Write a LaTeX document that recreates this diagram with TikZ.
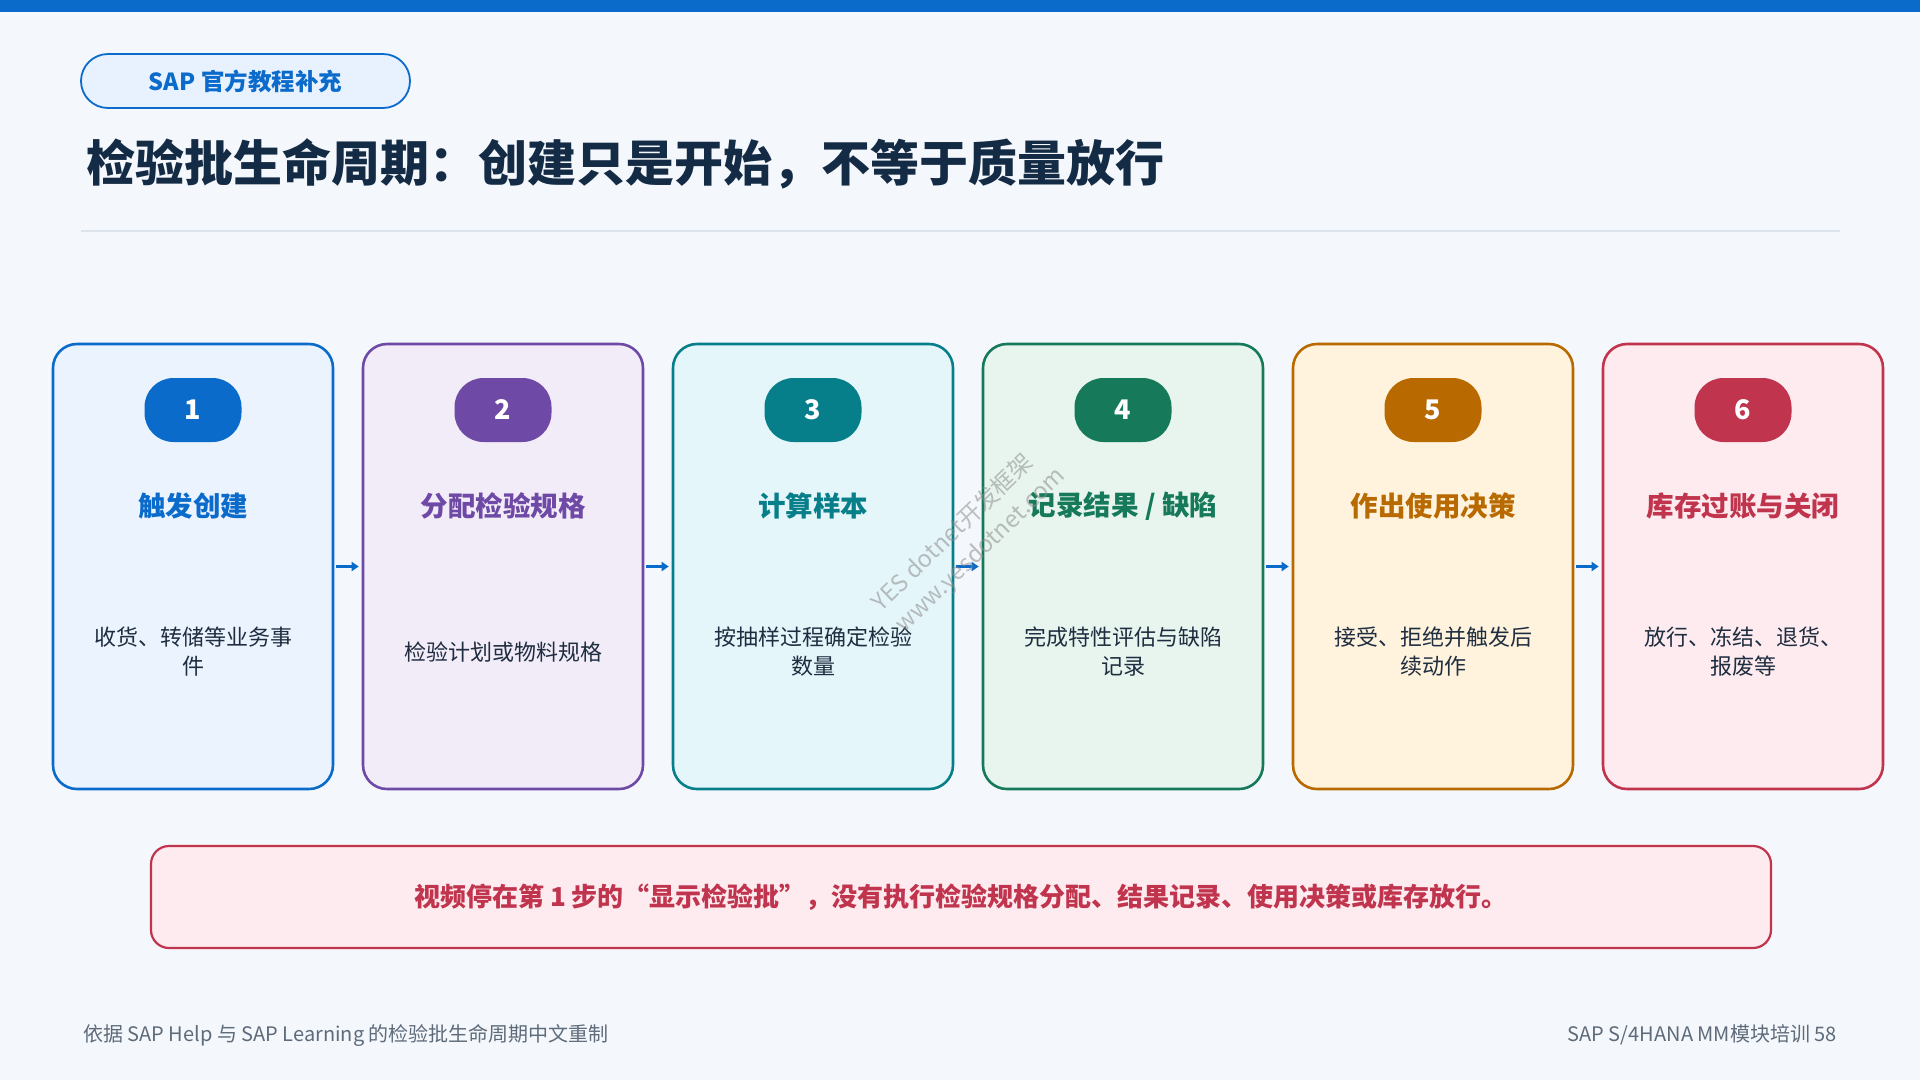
\documentclass[tikz,border=0pt]{standalone}
\usepackage{fontspec}
\setmainfont{Noto Sans CJK SC}
\usepackage{tikz}
\usetikzlibrary{positioning,arrows.meta}

\definecolor{pagebg}{HTML}{F4F7FB}
\definecolor{sapblue}{HTML}{0B6BCB}
\definecolor{tagfill}{HTML}{E8F2FE}
\definecolor{titleink}{HTML}{142B45}
\definecolor{bodyink}{HTML}{1F2D40}
\definecolor{footink}{HTML}{5E6B7A}
\definecolor{rulegray}{HTML}{DDE3EB}
\definecolor{cblue}{HTML}{0B6BCB}
\definecolor{cbluef}{HTML}{EAF3FE}
\definecolor{cpurple}{HTML}{6E4AA6}
\definecolor{cpurplef}{HTML}{F2EBF8}
\definecolor{cteal}{HTML}{077F8A}
\definecolor{ctealf}{HTML}{E5F6FA}
\definecolor{cgreen}{HTML}{15795A}
\definecolor{cgreenf}{HTML}{E7F5EE}
\definecolor{corange}{HTML}{B86A00}
\definecolor{corangef}{HTML}{FFF3DD}
\definecolor{cred}{HTML}{C0344D}
\definecolor{credf}{HTML}{FDEBEF}

\begin{document}
\begin{tikzpicture}[
  x=1pt, y=-1pt,
  card/.style={draw=#1, fill=#1f, line width=2.6pt, rounded corners=24pt,
    minimum width=280pt, minimum height=445pt, inner sep=0pt},
  badge/.style={fill=#1, rounded corners=29pt, minimum width=97pt,
    minimum height=64pt, inner sep=0pt, text=white,
    font=\fontsize{27}{30}\selectfont\bfseries},
  head/.style={text=#1, font=\fontsize{27.5}{30}\selectfont\bfseries, inner sep=1pt},
  desc/.style={text=bodyink, align=center, font=\fontsize{22}{29}\selectfont, inner sep=1pt},
  flowarrow/.style={draw=sapblue, line width=3.5pt, shorten <=2pt, shorten >=3pt,
    -{Triangle[length=7pt,width=9pt]}},
  tag/.style={draw=sapblue, fill=tagfill, line width=1.8pt, rounded corners=27pt,
    minimum width=329pt, minimum height=54pt, text=sapblue,
    font=\fontsize{23.5}{26}\selectfont\bfseries},
  notebox/.style={draw=cred, fill=credf, line width=2.2pt, rounded corners=18pt,
    minimum width=1620pt, minimum height=102pt, text=cred,
    font=\fontsize{26}{30}\selectfont\bfseries},
  foot/.style={text=footink, font=\fontsize{20}{23}\selectfont, inner sep=0pt},
  wmark/.style={text=black!45, opacity=0.55, font=\fontsize{23.5}{26}\selectfont, inner sep=0pt}
]

% page
\useasboundingbox (0,0) rectangle (1920,1080);
\fill[pagebg] (0,0) rectangle (1920,1080);
\fill[sapblue] (0,0) rectangle (1920,12);

% header
\node[tag] (tag) at (245.5,81) {SAP 官方教程补充};
\node[anchor=west, inner sep=0pt, text=titleink, font=\fontsize{49}{56}\selectfont\bfseries]
  (title) at (86,164) {检验批生命周期：创建只是开始，不等于质量放行};
\draw[rulegray, line width=2pt] (81,231) -- (1840,231);

% cards
\node[card=cblue] (card1) at (193,566.5) {};
\node[card=cpurple] (card2) at (503,566.5) {};
\node[card=cteal] (card3) at (813,566.5) {};
\node[card=cgreen] (card4) at (1123,566.5) {};
\node[card=corange] (card5) at (1433,566.5) {};
\node[card=cred] (card6) at (1743,566.5) {};

\node[badge=cblue] (b1) at (193,410) {1};
\node[badge=cpurple] (b2) at (503,410) {2};
\node[badge=cteal] (b3) at (813,410) {3};
\node[badge=cgreen] (b4) at (1123,410) {4};
\node[badge=corange] (b5) at (1433,410) {5};
\node[badge=cred] (b6) at (1743,410) {6};

\node[head=cblue] (h1) at (193,506) {触发创建};
\node[head=cpurple] (h2) at (503,506) {分配检验规格};
\node[head=cteal] (h3) at (813,506) {计算样本};
\node[head=cgreen] (h4) at (1123,506) {记录结果 / 缺陷};
\node[head=corange] (h5) at (1433,506) {作出使用决策};
\node[head=cred] (h6) at (1743,506) {库存过账与关闭};

\node[desc] (d1) at (193,652) {收货、转储等业务事\\件};
\node[desc] (d2) at (503,652) {检验计划或物料规格};
\node[desc] (d3) at (813,652) {按抽样过程确定检验\\数量};
\node[desc] (d4) at (1123,652) {完成特性评估与缺陷\\记录};
\node[desc] (d5) at (1433,652) {接受、拒绝并触发后\\续动作};
\node[desc] (d6) at (1743,652) {放行、冻结、退货、\\报废等};

\draw[flowarrow] (card1) -- (card2);
\draw[flowarrow] (card2) -- (card3);
\draw[flowarrow] (card3) -- (card4);
\draw[flowarrow] (card4) -- (card5);
\draw[flowarrow] (card5) -- (card6);

% note
\node[notebox] (note) at (961,897)
  {\raisebox{-2pt}{视频停在第 1 步的“显示检验批”，没有执行检验规格分配、结果记录、使用决策或库存放行。}};

% footer
\node[foot, anchor=west] (srcnote) at (83,1035) {依据 SAP Help 与 SAP Learning 的检验批生命周期中文重制};
\node[foot, anchor=east] (pageno) at (1837,1035) {SAP S/4HANA MM模块培训 58};

% watermark
\node[wmark, rotate=44] (wm1) at (952,532) {YES dotnet开发框架};
\node[wmark, rotate=44] (wm2) at (981,551) {www.yesdotnet.com};

\end{tikzpicture}
\end{document}
